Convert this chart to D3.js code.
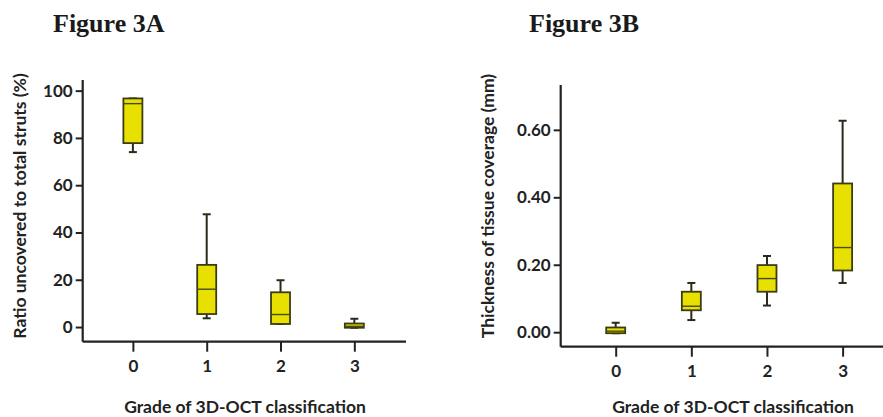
<!DOCTYPE html>
<html lang="en">
<head>
  <meta charset="UTF-8" />
  <title>Figure 3A / 3B</title>
  <script src="https://d3js.org/d3.v7.min.js"></script>
  <style>
    html, body {
      margin: 0;
      padding: 0;
      background: #fff;
    }
    svg {
      display: block;
    }
    .title {
      font-family: "Liberation Serif", "DejaVu Serif", serif;
      font-weight: bold;
      font-size: 26px;
      fill: #1a1a1a;
    }
    .lbl {
      font-family: Lato, "Open Sans", sans-serif;
      font-weight: bold;
      fill: #222;
    }
  </style>
</head>
<body>
<svg width="883" height="417"></svg>
<script>
  // data
  const grades = [0, 1, 2, 3];

  // Figure 3A: ratio uncovered to total struts (%)
  const aLow    = [74, 3.7, 1.3, -0.3];
  const aQ1     = [77.8, 5.5, 1.3, -0.3];
  const aMedian = [94.5, 16, 5.3, 0.3];
  const aQ3     = [96.7, 26.3, 14.7, 1.5];
  const aHigh   = [96.7, 47.7, 19.8, 3.5];
  const aTicks  = [0, 20, 40, 60, 80, 100];

  // Figure 3B: thickness of tissue coverage (mm)
  const bLow    = [-0.003, 0.036, 0.079, 0.146];
  const bQ1     = [-0.003, 0.065, 0.12, 0.183];
  const bMedian = [0.003, 0.077, 0.159, 0.251];
  const bQ3     = [0.014, 0.12, 0.199, 0.441];
  const bHigh   = [0.028, 0.146, 0.226, 0.627];
  const bTicks  = [0, 0.2, 0.4, 0.6];

  const svg = d3.select("svg");

  function panel(opt) {
    const g = svg.append("g");
    const x = d3.scaleLinear().domain(opt.xDomain).range(opt.xRange);
    const y = d3.scaleLinear().domain(opt.yDomain).range(opt.yRange);

    g.append("text").attr("class", "title")
      .attr("x", opt.titleX).attr("y", 32).text(opt.title);

    // y axis
    const yAxis = g.append("g")
      .attr("transform", `translate(${opt.xRange[0]},0)`)
      .call(d3.axisLeft(y).tickValues(opt.yTicks).tickFormat(opt.yFormat).tickSize(7).tickPadding(3));
    // x axis
    const xAxis = g.append("g")
      .attr("transform", `translate(0,${opt.yRange[0]})`)
      .call(d3.axisBottom(x).tickValues(grades).tickFormat(d3.format("d")).tickSize(10).tickPadding(8));

    [yAxis, xAxis].forEach(ax => {
      ax.select(".domain").attr("stroke", "#222").attr("stroke-width", 2.2);
      ax.selectAll(".tick line").attr("stroke", "#222").attr("stroke-width", 2);
      ax.selectAll(".tick text").attr("class", "lbl").style("font-size", "17px");
    });
    yAxis.select(".domain").attr("d", `M0,${opt.yRange[1]}V${opt.yRange[0]}`);
    xAxis.select(".domain").attr("d", `M${opt.xRange[0]},0H${opt.xRange[1]}`);

    g.append("text").attr("class", "lbl")
      .attr("x", opt.xTitleX).attr("y", 413)
      .attr("text-anchor", "middle").style("font-size", "17.5px")
      .text("Grade of 3D-OCT classification");

    g.append("text").attr("class", "lbl")
      .attr("transform", `translate(${opt.yTitleX},206) rotate(-90)`)
      .attr("text-anchor", "middle").style("font-size", "17.5px")
      .text(opt.yTitle);

    const bw = 19;
    const boxes = g.selectAll("g.box").data(grades).join("g").attr("class", "box");

    boxes.append("line")
      .attr("x1", d => x(d)).attr("x2", d => x(d))
      .attr("y1", d => y(opt.high[d])).attr("y2", d => y(opt.low[d]))
      .attr("stroke", "#2a2a1a").attr("stroke-width", 2);
    [opt.high, opt.low].forEach(arr => {
      boxes.append("line")
        .attr("x1", d => x(d) - 4).attr("x2", d => x(d) + 4)
        .attr("y1", d => y(arr[d])).attr("y2", d => y(arr[d]))
        .attr("stroke", "#2a2a1a").attr("stroke-width", 2);
    });
    boxes.append("rect")
      .attr("x", d => x(d) - bw / 2).attr("width", bw)
      .attr("y", d => y(opt.q3[d]))
      .attr("height", d => y(opt.q1[d]) - y(opt.q3[d]))
      .attr("fill", "#e8e000").attr("stroke", "#3c3c14").attr("stroke-width", 1.8);
    boxes.append("line")
      .attr("x1", d => x(d) - bw / 2).attr("x2", d => x(d) + bw / 2)
      .attr("y1", d => y(opt.median[d])).attr("y2", d => y(opt.median[d]))
      .attr("stroke", "#4a4a1a").attr("stroke-width", 1.4);
  }

  panel({
    title: "Figure 3A", titleX: 53,
    xDomain: [-0.68, 3.7], xRange: [82.7, 406],
    yDomain: [-6.2, 104.5], yRange: [341.7, 80],
    yTicks: aTicks, yFormat: d3.format("d"),
    xTitleX: 245, yTitleX: 26,
    yTitle: "Ratio uncovered to total struts (%)",
    low: aLow, q1: aQ1, median: aMedian, q3: aQ3, high: aHigh
  });

  panel({
    title: "Figure 3B", titleX: 529,
    xDomain: [-0.727, 3.6], xRange: [560.7, 888],
    yDomain: [-0.043, 0.733], yRange: [346.7, 85],
    yTicks: bTicks, yFormat: d3.format(".2f"),
    xTitleX: 733, yTitleX: 494,
    yTitle: "Thickness of tissue coverage (mm)",
    low: bLow, q1: bQ1, median: bMedian, q3: bQ3, high: bHigh
  });
</script>
</body>
</html>
